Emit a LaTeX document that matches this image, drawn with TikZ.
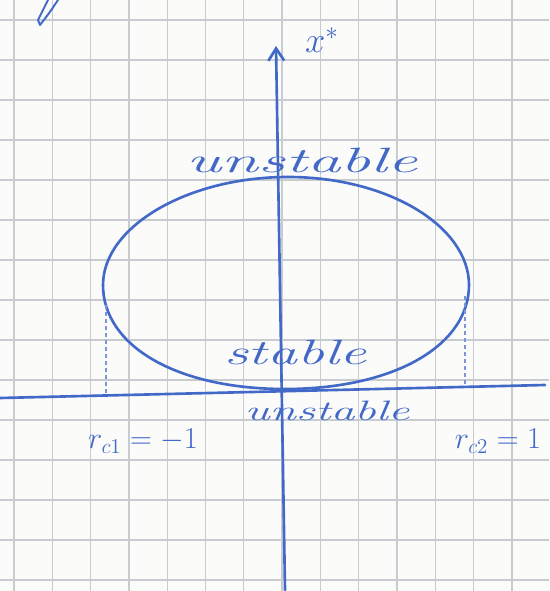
\documentclass[tikz,border=0pt]{standalone}
\usepackage{amsmath}
\usepackage{tikz}
\usetikzlibrary{positioning, arrows.meta, calc}

\definecolor{penblue}{RGB}{66,104,200}
\definecolor{gridgray}{RGB}{200,204,208}
\definecolor{paper}{RGB}{251,251,250}

\begin{document}
\begin{tikzpicture}[
    x=0.02cm, y=-0.02cm,
    gridline/.style={draw=gridgray, line width=0.7pt},
    pen/.style={draw=penblue, line width=1.5pt, line cap=round, line join=round},
    hint/.style={draw=penblue!70, line width=0.9pt, dash pattern=on 2pt off 2pt},
    hand/.style={text=penblue, font=\fontsize{20}{22}\selectfont\itshape, inner sep=0pt},
    crit/.style={text=penblue, font=\fontsize{18}{20}\selectfont, inner sep=0pt},
]
% paper and squares
\fill[paper] (0,0) rectangle (549,591);
\useasboundingbox (0,0) rectangle (549,591);
\foreach \gx in {0,...,14} {
    \draw[gridline] ({14+38.3*\gx},0) -- ++(0,591);
}
\foreach \gy in {0,...,14} {
    \draw[gridline] (0,{20+40*\gy}) -- ++(549,0);
}

% stray pen stroke from the page above
\draw[pen, line width=1.1pt] (58,0) .. controls (50,12) .. (40,25) -- (38,20) -- (48,0);

% axes
\coordinate (xbot) at (285,590);
\coordinate (xtop) at (276,46);
\coordinate (rleft) at (0,398);
\coordinate (rright) at (545,385);
\draw[pen, -{Straight Barb[length=7pt, width=9pt]}] (xbot) -- (xtop);
\draw[pen] (rleft) -- (rright);
\node[text=penblue, font=\fontsize{20}{22}\selectfont, inner sep=0pt] (xlab) at (322,40) {$x^{*}$};

% branch of fixed points
\coordinate (bl) at (103,285);
\coordinate (bt) at (288,177);
\coordinate (br) at (469,285);
\coordinate (bb) at (285,389);
\draw[pen] (bl) .. controls (103,227) and (187,177) .. (bt)
    .. controls (389,177) and (469,227) .. (br)
    .. controls (469,345) and (395,389) .. (bb)
    .. controls (175,389) and (103,345) .. (bl) -- cycle;

% critical values
\coordinate (cl) at (106,305);
\coordinate (cr) at (465,296);
\draw[hint] (cl) -- (106,396);
\draw[hint] (cr) -- (465,387);
\node[crit] (rc1) at (143,441) {$r_{c1}=-1$};
\node[crit] (rc2) at (498,441) {$r_{c2}=1$};

% stability labels
\node[hand, xscale=1.9] (upper) at (302,160) {unstable};
\node[hand, xscale=1.7] (inner) at (295,352) {stable};
\node[hand, xscale=1.7, font=\fontsize{16}{18}\selectfont\itshape] (lower) at (327,411) {unstable};
\end{tikzpicture}
\end{document}
